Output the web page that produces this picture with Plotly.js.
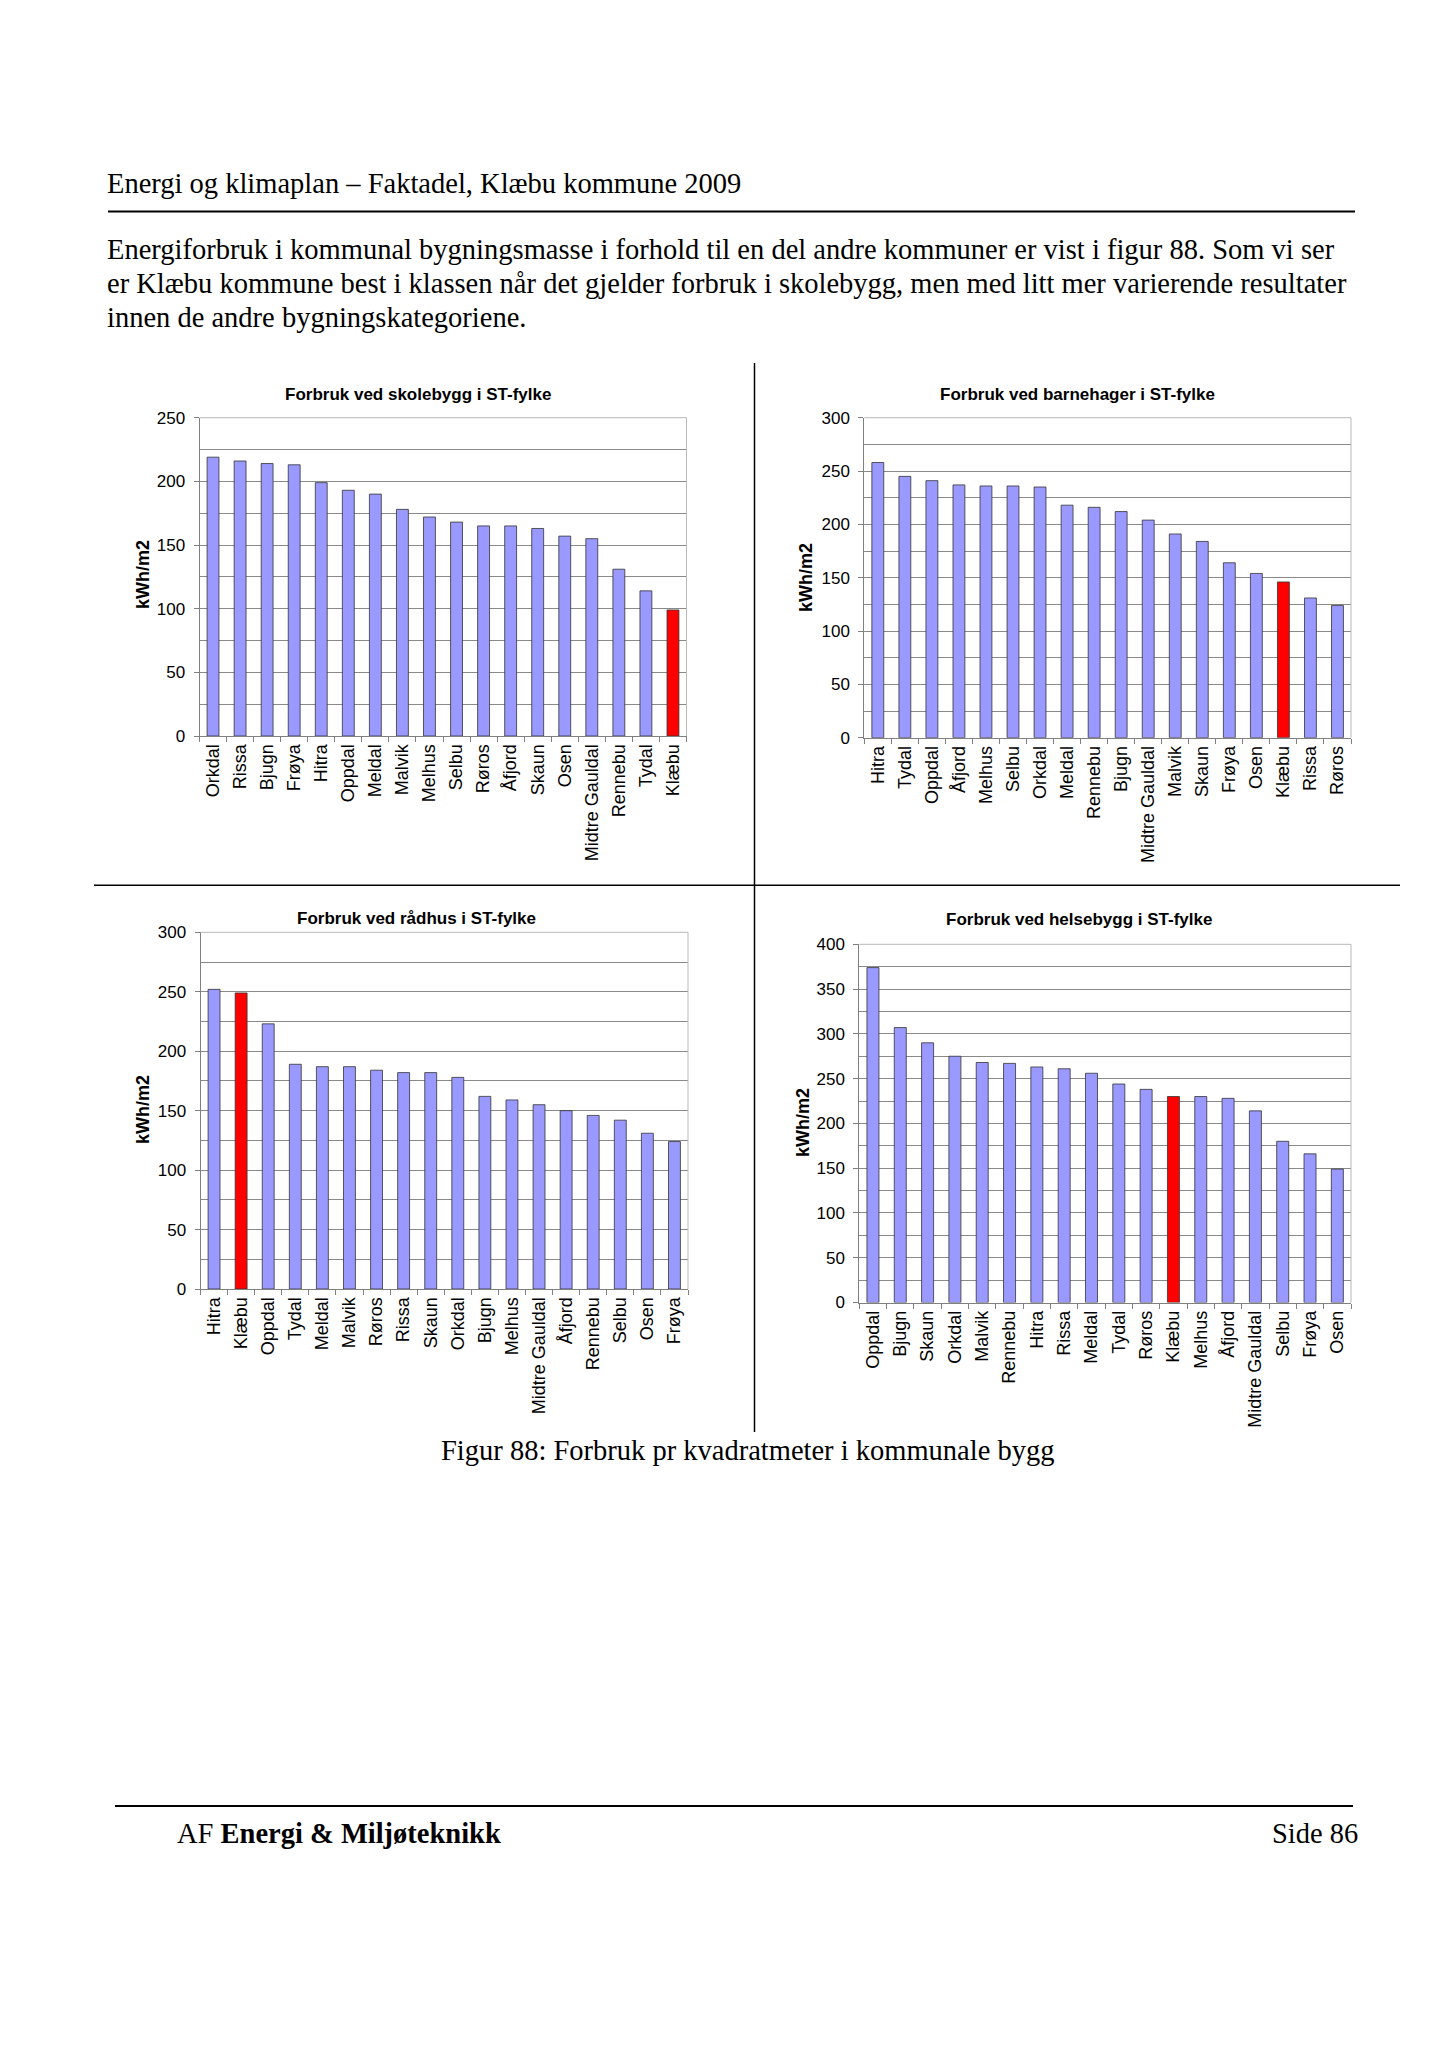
<!DOCTYPE html>
<html>
<head>
<meta charset="utf-8">
<script src="https://cdn.plot.ly/plotly-3.0.1.min.js"></script>
<style>
html,body{margin:0;padding:0;background:#fff;}
#chart{width:1448px;height:2048px;}
</style>
</head>
<body>
<div id="chart"></div>
<script>
// ---------- data ----------
const schoolCategories = ["Orkdal","Rissa","Bjugn","Frøya","Hitra","Oppdal","Meldal","Malvik","Melhus","Selbu","Røros","Åfjord","Skaun","Osen","Midtre Gauldal","Rennebu","Tydal","Klæbu"];
const schoolValues = [219,216,214,213,199,193,190,178,172,168,165,165,163,157,155,131,114,99];

const kinderCategories = ["Hitra","Tydal","Oppdal","Åfjord","Melhus","Selbu","Orkdal","Meldal","Rennebu","Bjugn","Midtre Gauldal","Malvik","Skaun","Frøya","Osen","Klæbu","Rissa","Røros"];
const kinderValues = [258,245,241,237,236,236,235,218,216,212,204,191,184,164,154,146,131,124];

const townhallCategories = ["Hitra","Klæbu","Oppdal","Tydal","Meldal","Malvik","Røros","Rissa","Skaun","Orkdal","Bjugn","Melhus","Midtre Gauldal","Åfjord","Rennebu","Selbu","Osen","Frøya"];
const townhallValues = [252,249,223,189,187,187,184,182,182,178,162,159,155,150,146,142,131,124];

const healthCategories = ["Oppdal","Bjugn","Skaun","Orkdal","Malvik","Rennebu","Hitra","Rissa","Meldal","Tydal","Røros","Klæbu","Melhus","Åfjord","Midtre Gauldal","Selbu","Frøya","Osen"];
const healthValues = [374,307,290,275,268,267,263,261,256,244,238,230,230,228,214,180,166,149];

const chartTitles = ["Forbruk ved skolebygg i ST-fylke","Forbruk ved barnehager i ST-fylke","Forbruk ved rådhus i ST-fylke","Forbruk ved helsebygg i ST-fylke"];
const yAxisTitle = "kWh/m2";
const yMax = [250,300,300,400];
const highlight = "Klæbu";

const headerText = "Energi og klimaplan – Faktadel, Klæbu kommune 2009";
const bodyLines = [
  "Energiforbruk i kommunal bygningsmasse i forhold til en del andre kommuner er vist i figur 88. Som vi ser",
  "er Klæbu kommune best i klassen når det gjelder forbruk i skolebygg, men med litt mer varierende resultater",
  "innen de andre bygningskategoriene."
];
const captionText = "Figur 88: Forbruk pr kvadratmeter i kommunale bygg";
const footerLeft = "AF <b>Energi &amp; Miljøteknikk</b>";
const footerRight = "Side 86";

// ---------- layout helpers ----------
const W = 1448, H = 2048;
const px = x => x / W;
const py = y => 1 - y / H;

const BLUE = "#9999FF", RED = "#FF0000";
const sans = "Liberation Sans, Arial, sans-serif";
const serif = "Liberation Serif, Times New Roman, serif";

const panels = [
  {cats: schoolCategories, vals: schoolValues, box: [199.5, 686.5, 417.7, 736.0], title: [418, 394], ytitle: [143, 575]},
  {cats: kinderCategories, vals: kinderValues, box: [864.3, 1351, 417.7, 737.7], title: [1077, 394], ytitle: [806, 578]},
  {cats: townhallCategories, vals: townhallValues, box: [200.5, 688, 932.3, 1289], title: [417, 918], ytitle: [143, 1110]},
  {cats: healthCategories, vals: healthValues, box: [859.3, 1351, 944.3, 1302.5], title: [1079, 919], ytitle: [803, 1123]}
];

const data = [];
const layout = {
  width: W, height: H,
  margin: {l: 0, r: 0, t: 0, b: 0, pad: 0},
  paper_bgcolor: "#ffffff",
  plot_bgcolor: "#ffffff",
  showlegend: false,
  bargap: 0.56,
  font: {family: sans, color: "#000"},
  annotations: [],
  shapes: []
};

panels.forEach((p, i) => {
  const n = i === 0 ? "" : String(i + 1);
  const xa = "x" + n, ya = "y" + n;
  data.push({
    type: "bar",
    x: p.cats,
    y: p.vals,
    xaxis: xa, yaxis: ya,
    marker: {
      color: p.cats.map(c => c === highlight ? RED : BLUE),
      line: {color: "#333333", width: 0.8}
    },
    hoverinfo: "x+y"
  });
  const [x0, x1, yTop, yBot] = p.box;
  layout["xaxis" + n] = {
    domain: [px(x0), px(x1)],
    anchor: ya,
    type: "category",
    range: [-0.5, p.cats.length - 0.5],
    tickangle: -90,
    ticks: "outside", tickson: "boundaries", ticklen: 5, tickcolor: "#808080", tickwidth: 1,
    showline: true, linecolor: "#808080", linewidth: 1,
    showgrid: false, zeroline: false,
    tickfont: {family: sans, size: 18, color: "#000"}
  };
  layout["yaxis" + n] = {
    domain: [py(yBot), py(yTop)],
    anchor: xa,
    range: [0, yMax[i]],
    dtick: 50, tick0: 0,
    ticks: "outside", ticklen: 5, tickcolor: "#808080", tickwidth: 1,
    ticklabelstandoff: 5,
    showline: true, linecolor: "#808080", linewidth: 1,
    showgrid: true, gridcolor: "#8a8a8a", gridwidth: 1,
    minor: {dtick: 25, showgrid: true, gridcolor: "#8a8a8a", gridwidth: 1, ticks: ""},
    zeroline: false,
    tickfont: {family: sans, size: 17, color: "#000"}
  };
  // plot-area border (top & right)
  layout.shapes.push(
    {type: "line", xref: xa + " domain", yref: ya + " domain", x0: 0, x1: 1, y0: 1, y1: 1, line: {color: "#b8b8b8", width: 1}},
    {type: "line", xref: xa + " domain", yref: ya + " domain", x0: 1, x1: 1, y0: 0, y1: 1, line: {color: "#b8b8b8", width: 1}}
  );
  layout.annotations.push(
    {text: "<b>" + chartTitles[i] + "</b>", xref: "paper", yref: "paper", x: px(p.title[0]), y: py(p.title[1]),
     xanchor: "center", yanchor: "middle", showarrow: false, font: {family: sans, size: 17, color: "#000"}},
    {text: "<b>" + yAxisTitle + "</b>", xref: "paper", yref: "paper", x: px(p.ytitle[0]), y: py(p.ytitle[1]),
     xanchor: "center", yanchor: "middle", textangle: -90, showarrow: false, font: {family: sans, size: 18, color: "#000"}}
  );
});

// ---------- page text ----------
const pageFont = {family: serif, size: 28.5, color: "#000"};
layout.annotations.push(
  {text: headerText, xref: "paper", yref: "paper", x: px(105), y: py(183), xanchor: "left", yanchor: "middle",
   showarrow: false, font: pageFont}
);
bodyLines.forEach((t, k) => {
  layout.annotations.push({text: t, xref: "paper", yref: "paper", x: px(105), y: py(249 + 34 * k), xanchor: "left", yanchor: "middle",
    showarrow: false, font: pageFont});
});
layout.annotations.push(
  {text: captionText, xref: "paper", yref: "paper", x: px(747.5), y: py(1450), xanchor: "center", yanchor: "middle",
   showarrow: false, font: pageFont},
  {text: footerLeft, xref: "paper", yref: "paper", x: px(175), y: py(1833), xanchor: "left", yanchor: "middle",
   showarrow: false, font: pageFont},
  {text: footerRight, xref: "paper", yref: "paper", x: px(1360), y: py(1833), xanchor: "right", yanchor: "middle",
   showarrow: false, font: pageFont}
);

// ---------- page rules ----------
const rule = (xa0, ya0, xa1, ya1, w) => ({type: "line", xref: "paper", yref: "paper",
  x0: px(xa0), y0: py(ya0), x1: px(xa1), y1: py(ya1), line: {color: "#000", width: w}});
layout.shapes.push(
  rule(108, 211.5, 1355, 211.5, 2),
  rule(754.5, 363, 754.5, 1432, 1.5),
  rule(94, 885.3, 1400, 885.3, 1.5),
  rule(115, 1806, 1353, 1806, 2)
);

Plotly.newPlot("chart", data, layout, {staticPlot: true, displayModeBar: false});
</script>
</body>
</html>
